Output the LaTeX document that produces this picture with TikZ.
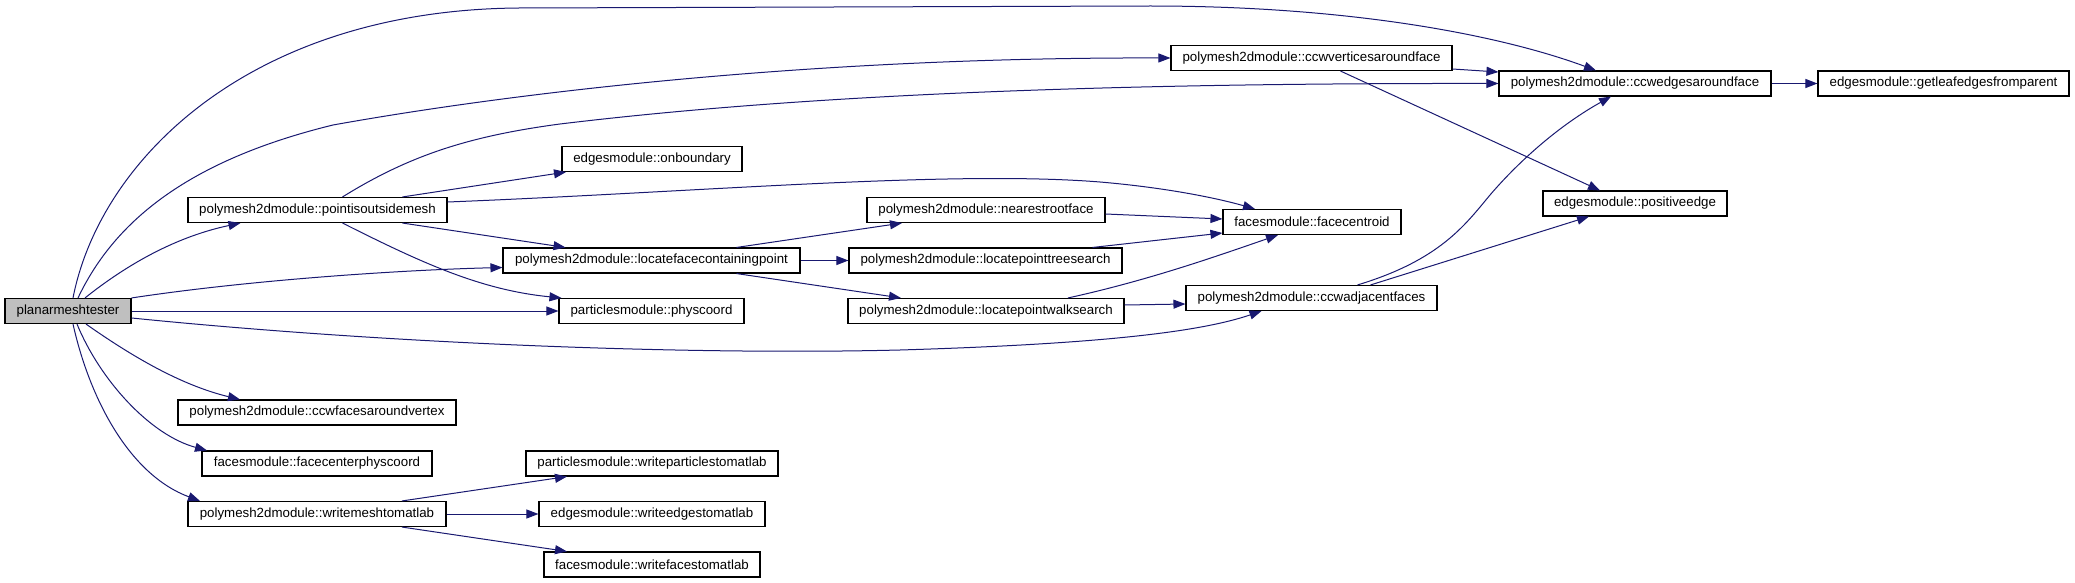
\documentclass[tikz,border=0pt]{standalone}
\usepackage{fontspec}
\setmainfont{Liberation Sans}
\usetikzlibrary{arrows.meta}
\definecolor{edgec}{HTML}{191970}
\definecolor{rootfill}{HTML}{BFBFBF}
\begin{document}
\begin{tikzpicture}[x=1pt,y=-1pt,
  fn/.style={draw=black, line width=1.1pt, fill=white, minimum height=25pt, inner sep=0pt,
    font=\fontsize{13.3}{15}\selectfont, text=black},
  rootfn/.style={fn, fill=rootfill},
  call/.style={draw=edgec, line width=1pt, -{Triangle[length=12pt,width=9pt]}}
]
\useasboundingbox (0,0) rectangle (2075,583);

% nodes
\node[rootfn, minimum width=126pt] (P)   at (68,311)     {planarmeshtester};
\node[fn, minimum width=259pt] (PO)  at (317.5,210)  {polymesh2dmodule::pointisoutsidemesh};
\node[fn, minimum width=278pt] (FV)  at (317,412.5)  {polymesh2dmodule::ccwfacesaroundvertex};
\node[fn, minimum width=230pt] (FCP) at (317,463.5)  {facesmodule::facecenterphyscoord};
\node[fn, minimum width=258pt] (W)   at (317,514)    {polymesh2dmodule::writemeshtomatlab};
\node[fn, minimum width=180pt] (OB)  at (652,159)    {edgesmodule::onboundary};
\node[fn, minimum width=297pt] (L)   at (651.5,260.5){polymesh2dmodule::locatefacecontainingpoint};
\node[fn, minimum width=185pt] (PC)  at (651.5,311)  {particlesmodule::physcoord};
\node[fn, minimum width=252pt] (WP)  at (652,463.5)  {particlesmodule::writeparticlestomatlab};
\node[fn, minimum width=226pt] (WE)  at (652,514)    {edgesmodule::writeedgestomatlab};
\node[fn, minimum width=216pt] (WF)  at (652,564.5)  {facesmodule::writefacestomatlab};
\node[fn, minimum width=238pt] (NR)  at (986,210)    {polymesh2dmodule::nearestrootface};
\node[fn, minimum width=273pt] (LT)  at (985.5,260.5){polymesh2dmodule::locatepointtreesearch};
\node[fn, minimum width=276pt] (LW)  at (986,311)    {polymesh2dmodule::locatepointwalksearch};
\node[fn, minimum width=281pt] (V)   at (1311.5,58)  {polymesh2dmodule::ccwverticesaroundface};
\node[fn, minimum width=178pt] (FC)  at (1312,222)   {facesmodule::facecentroid};
\node[fn, minimum width=251pt] (A)   at (1311.5,298) {polymesh2dmodule::ccwadjacentfaces};
\node[fn, minimum width=272pt] (E)   at (1635,83.5)  {polymesh2dmodule::ccwedgesaroundface};
\node[fn, minimum width=184pt] (PE)  at (1635,203.5) {edgesmodule::positiveedge};
\node[fn, minimum width=251pt] (G)   at (1943.5,83.5){edgesmodule::getleafedgesfromparent};

% edges from planarmeshtester
\draw[call] ([xshift=5pt]P.north) .. controls (100,160) and (250,10) .. (519,8)
  -- (1150,6) .. controls (1350,6) and (1500,35) .. ([xshift=-39pt]E.north);
\draw[call] ([xshift=10pt]P.north) .. controls (115,220) and (190,160) .. (333,125)
  .. controls (500,95) and (800,57) .. (V.west);
\draw[call] ([xshift=17pt]P.north) .. controls (120,270) and (170,238) .. ([xshift=-77pt]PO.south);
\draw[call] (P.north east) .. controls (250,280) and (400,270) .. ([yshift=-7pt]L.west);
\draw[call] (P.east) -- (PC.west);
\draw[call] ([yshift=-7pt]P.east) .. controls (400,345) and (700,355) .. (900,350)
  .. controls (1100,344) and (1200,332) .. ([xshift=-50pt]A.south);
\draw[call] ([xshift=18pt]P.south) .. controls (130,355) and (180,385) .. ([xshift=-77pt]FV.north);
\draw[call] ([xshift=9pt]P.south) .. controls (100,380) and (150,435) .. ([xshift=-110pt]FCP.north);
\draw[call] ([xshift=5pt]P.south) .. controls (90,400) and (130,475) .. ([xshift=-117pt]W.north);

% edges from pointisoutsidemesh
\draw[call] ([xshift=25pt]PO.north) .. controls (410,155) and (470,136) .. (560,124)
  .. controls (800,95) and (1100,83) .. (E.west);
\draw[call] ([xshift=85pt]PO.north) -- ([xshift=-86pt]OB.south);
\draw[call] ([yshift=8pt]PO.east) .. controls (700,192) and (950,170) .. (1100,182)
  .. controls (1170,188) and (1220,199) .. ([xshift=-57pt]FC.north);
\draw[call] ([xshift=85pt]PO.south) -- ([xshift=-86pt]L.north);
\draw[call] ([xshift=25pt]PO.south) .. controls (420,262) and (480,290) .. ([xshift=3pt]PC.north west);

% edges from locatefacecontainingpoint
\draw[call] ([xshift=85pt]L.north) -- ([xshift=-84pt]NR.south);
\draw[call] (L.east) -- (LT.west);
\draw[call] ([xshift=85pt]L.south) -- ([xshift=-85pt]LW.north);

% to facecentroid
\draw[call] ([yshift=-4pt]NR.east) -- ([yshift=3pt]FC.west);
\draw[call] ([xshift=107pt]LT.north) -- ([yshift=-11pt]FC.west);
\draw[call] ([xshift=82pt]LW.north) .. controls (1150,280) and (1220,255) .. ([xshift=-34pt]FC.south);
\draw[call] ([yshift=6pt]LW.east) -- ([yshift=-6pt]A.west);

% right part
\draw[call] ([yshift=-11pt]V.east) -- ([yshift=11.5pt]E.west);
\draw[call] ([xshift=29pt]V.south) -- ([xshift=-35pt]PE.north);
\draw[call] ([xshift=46pt]A.north) .. controls (1440,260) and (1465,225) .. (1490,195)
  .. controls (1520,160) and (1560,125) .. ([xshift=-24pt]E.south);
\draw[call] ([xshift=59pt]A.north) -- ([xshift=-46pt]PE.south);
\draw[call] (E.east) -- (G.west);

% from writemeshtomatlab
\draw[call] ([xshift=85pt]W.north) -- ([xshift=-85pt]WP.south);
\draw[call] (W.east) -- (WE.west);
\draw[call] ([xshift=85pt]W.south) -- ([xshift=-85pt]WF.north);
\end{tikzpicture}
\end{document}
